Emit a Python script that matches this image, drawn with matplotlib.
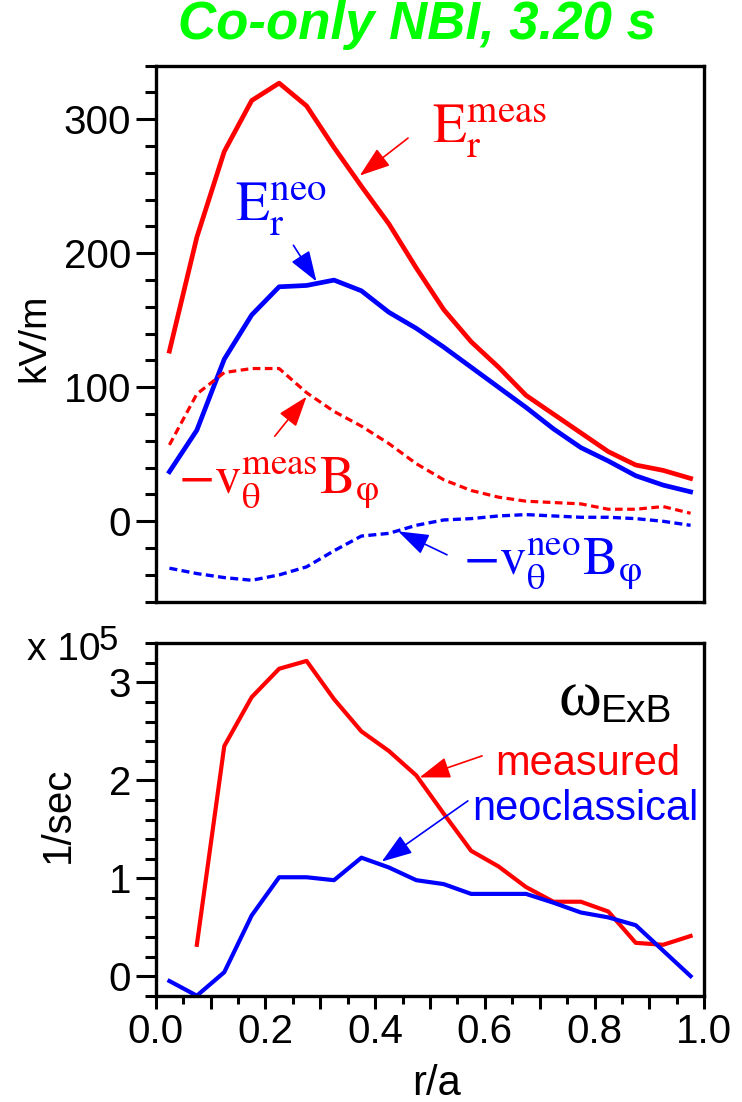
import matplotlib
matplotlib.use('Agg')
import matplotlib.pyplot as plt
from matplotlib.ticker import MultipleLocator, FixedLocator, FixedFormatter

plt.rcParams['font.family'] = ['Liberation Sans', 'DejaVu Sans']
plt.rcParams['mathtext.fontset'] = 'stix'

# radial grid (r/a)
r = [0.025, 0.075, 0.125, 0.175, 0.225, 0.275, 0.325, 0.375, 0.425, 0.475,
     0.525, 0.575, 0.625, 0.675, 0.725, 0.775, 0.825, 0.875, 0.925, 0.975]

# radial electric field terms, kV/m
er_meas = [127, 212, 276, 314, 327, 310, 279, 250, 222, 189,
           158, 134, 115, 94, 80, 66, 52, 42, 38, 32]
er_neo = [37, 68, 121, 154, 175, 176, 180, 172, 156, 144,
          130, 115, 100, 85, 69, 55, 45, 34, 27, 22]
vb_meas = [57, 95, 111, 114, 114, 96, 82, 71, 58, 43,
           31, 23, 18, 15, 14, 13, 9, 9, 11, 6]
vb_neo = [-35, -39, -42, -44, -40, -34, -22, -11, -9, -3,
          1, 2, 4, 5, 4, 3, 3, 2, 0, -3]

# ExB shearing rate, 1e5 1/sec (measured starts at second radius)
r_wmeas = r[1:]
w_meas = [0.32, 2.35, 2.85, 3.14, 3.22, 2.83, 2.50, 2.30, 2.05, 1.66,
          1.28, 1.12, 0.91, 0.76, 0.76, 0.66, 0.34, 0.32, 0.41]
w_neo = [-0.05, -0.20, 0.04, 0.62, 1.01, 1.01, 0.98, 1.21, 1.11, 0.98,
         0.94, 0.84, 0.84, 0.84, 0.75, 0.65, 0.60, 0.52, 0.26, 0.00]

RED = '#ff0000'
BLUE = '#0000ff'
W, H = 742, 1102

fig = plt.figure(figsize=(W / 100, H / 100), dpi=100)
ax1 = fig.add_axes([155.7 / W, 1 - 601.7 / H, 548.6 / W, 536.0 / H])
ax2 = fig.add_axes([155.7 / W, 1 - 995.7 / H, 548.6 / W, 352.4 / H])


def style_axes(ax):
    for s in ax.spines.values():
        s.set_linewidth(2.4)
    ax.tick_params(axis='y', which='major', direction='out', length=14.4, width=2.2,
                   labelsize=29, pad=3.4, right=False)
    ax.tick_params(axis='y', which='minor', direction='out', length=7.9, width=2.2, right=False)
    ax.tick_params(axis='x', top=False)


def arrow(ax, tip, tail, color, hl=0.95, hw=0.33):
    ax.annotate('', xy=tip, xytext=tail, annotation_clip=False,
                arrowprops=dict(arrowstyle=f'-|>,head_length={hl},head_width={hw}',
                                color=color, lw=1.2, shrinkA=0, shrinkB=0,
                                mutation_scale=20))


# ---- top panel: Er components
ax1.plot(r, er_meas, color=RED, lw=3.4)
ax1.plot(r, er_neo, color=BLUE, lw=3.4)
ax1.plot(r, vb_meas, color=RED, lw=2.3, ls=(0, (2.4, 1.4)))
ax1.plot(r, vb_neo, color=BLUE, lw=2.4, ls=(0, (2.4, 1.3)))
ax1.set_xlim(0, 1)
ax1.set_ylim(-60, 340)
ax1.yaxis.set_major_locator(FixedLocator([0, 100, 200, 300]))
ax1.yaxis.set_minor_locator(MultipleLocator(20))
style_axes(ax1)
ax1.tick_params(axis='x', which='both', bottom=False, labelbottom=False)

ax1.text(0.503, 282, r'$\mathrm{E_r^{meas}}$', color=RED, fontsize=40, va='baseline')
arrow(ax1, (0.372, 258), (0.460, 286), RED)
ax1.text(0.145, 224, r'$\mathrm{E_r^{neo}}$', color=BLUE, fontsize=40, va='baseline')
arrow(ax1, (0.293, 179), (0.251, 206), BLUE)
ax1.text(0.040, 20.7, r'$-\mathrm{v}_{\mathrm{\theta}}^{\mathrm{meas}}\mathrm{B}_{\mathrm{\varphi}}$',
         color=RED, fontsize=38, va='baseline')
arrow(ax1, (0.275, 93), (0.217, 63.5), RED)
ax1.text(0.560, -39.8, r'$-\mathrm{v}_{\mathrm{\theta}}^{\mathrm{neo}}\mathrm{B}_{\mathrm{\varphi}}$',
         color=BLUE, fontsize=38, va='baseline')
arrow(ax1, (0.442, -7.5), (0.531, -25), BLUE)

# ---- bottom panel: omega_ExB
ax2.plot(r_wmeas, w_meas, color=RED, lw=3.0)
ax2.plot(r, w_neo, color=BLUE, lw=3.0)
ax2.set_xlim(0, 1)
ax2.set_ylim(-0.2, 3.4)
ax2.yaxis.set_major_locator(FixedLocator([0, 1, 2, 3]))
ax2.yaxis.set_minor_locator(MultipleLocator(0.2))
xt = [0.0, 0.1, 0.2, 0.3, 0.4, 0.5, 0.6, 0.7, 0.8, 0.9, 1.0]
ax2.xaxis.set_major_locator(FixedLocator(xt))
ax2.xaxis.set_major_formatter(FixedFormatter(['%.1f' % t if i % 2 == 0 else '' for i, t in enumerate(xt)]))
ax2.xaxis.set_minor_locator(MultipleLocator(0.05))
style_axes(ax2)
ax2.tick_params(axis='x', which='major', direction='out', length=9.4, width=2.2,
                labelsize=29, pad=3)
ax2.tick_params(axis='x', which='minor', direction='out', length=5.8, width=2.2)

ax2.text(0.735, 2.66, 'ω', fontsize=47, family=['Liberation Serif', 'DejaVu Serif'],
         va='baseline')
ax2.text(0.812, 2.60, 'ExB', fontsize=28, va='baseline')
ax2.text(0.956, 2.05, 'measured', color=RED, fontsize=30, ha='right', va='baseline')
arrow(ax2, (0.481, 2.03), (0.595, 2.25), RED)
ax2.text(0.990, 1.60, 'neoclassical', color=BLUE, fontsize=30, ha='right', va='baseline')
arrow(ax2, (0.412, 1.17), (0.569, 1.79), BLUE)

# ---- figure labels
fig.text(417 / W, 1 - 38.5 / H, 'Co-only NBI, 3.20 s', color='#00ff00', fontsize=38,
         fontweight='bold', fontstyle='italic', ha='center', va='baseline')
fig.text(34 / W, 1 - 338 / H, 'kV/m', fontsize=28, rotation=90, ha='center', va='center')
fig.text(58 / W, 1 - 815 / H, '1/sec', fontsize=29, rotation=90, ha='center', va='center')
fig.text(436.5 / W, 1 - 1095 / H, 'r/a', fontsize=30, ha='center', va='baseline')
fig.text(27 / W, 1 - 660 / H, 'x 10', fontsize=28, ha='left', va='baseline')
fig.text(99 / W, 1 - 650 / H, '5', fontsize=25, ha='left', va='baseline')

fig.savefig('out.png', dpi=100)
